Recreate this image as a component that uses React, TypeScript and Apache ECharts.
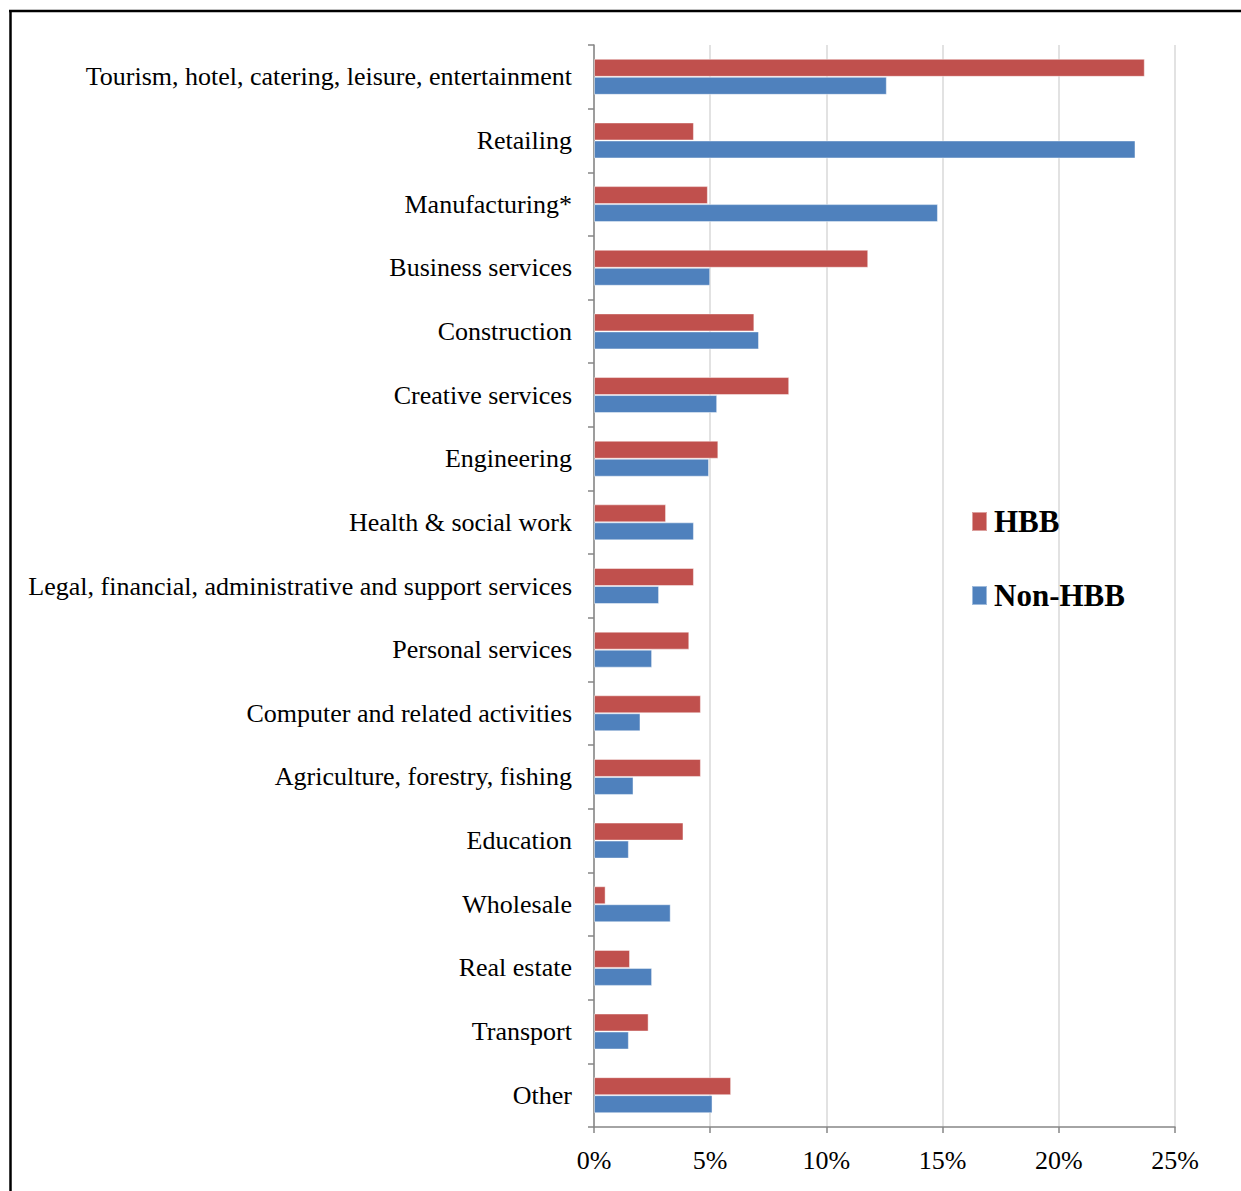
import React, { useEffect, useRef } from "react";
import * as echarts from "echarts";

const categories = [
  "Tourism, hotel, catering, leisure, entertainment",
  "Retailing",
  "Manufacturing*",
  "Business services",
  "Construction",
  "Creative services",
  "Engineering",
  "Health & social work",
  "Legal, financial, administrative and support services",
  "Personal services",
  "Computer and related activities",
  "Agriculture, forestry, fishing",
  "Education",
  "Wholesale",
  "Real estate",
  "Transport",
  "Other",
];

const hbbValues = [23.7, 4.3, 4.9, 11.8, 6.9, 8.4, 5.35, 3.1, 4.3, 4.1, 4.6, 4.6, 3.85, 0.5, 1.55, 2.35, 5.9];
const nonHbbValues = [12.6, 23.3, 14.8, 5.0, 7.1, 5.3, 4.95, 4.3, 2.8, 2.5, 2.0, 1.7, 1.5, 3.3, 2.5, 1.5, 5.1];

const xTickLabels = ["0%", "5%", "10%", "15%", "20%", "25%"];

const seriesNames = ["HBB", "Non-HBB"];
const colors = ["#C0504D", "#4F81BD"];

export default function App() {
  const ref = useRef<HTMLDivElement>(null);

  useEffect(() => {
    if (!ref.current) return;
    const chart = echarts.init(ref.current, undefined, { renderer: "svg" });
    const font = "'Liberation Serif', 'Times New Roman', serif";
    chart.setOption({
      animation: false,
      backgroundColor: "#ffffff",
      graphic: [
        {
          type: "line",
          shape: { x1: 9, y1: 11, x2: 1241, y2: 11 },
          style: { stroke: "#000", lineWidth: 2.5 },
          silent: true,
        },
        {
          type: "line",
          shape: { x1: 10.5, y1: 10, x2: 10.5, y2: 1191 },
          style: { stroke: "#000", lineWidth: 2.5 },
          silent: true,
        },
      ],
      legend: {
        orient: "vertical",
        left: 966,
        top: 501,
        itemWidth: 15,
        itemHeight: 19,
        itemGap: 43,
        icon: "rect",
        data: seriesNames,
        textStyle: {
          fontFamily: font,
          fontSize: 31,
          fontWeight: "bold",
          color: "#000",
          lineHeight: 30,
          padding: [0, 0, 0, 2],
        },
      },
      grid: {
        left: 594,
        right: 66,
        top: 45,
        bottom: 64,
        containLabel: false,
      },
      xAxis: {
        type: "value",
        min: 0,
        max: 25,
        interval: 5,
        axisLine: { show: true, lineStyle: { color: "#868686", width: 1.5 } },
        axisTick: { show: true, length: 6, lineStyle: { color: "#868686", width: 1.5 } },
        splitLine: { show: true, lineStyle: { color: "#d9d9d9", width: 1.5 } },
        axisLabel: {
          fontFamily: font,
          fontSize: 26,
          color: "#000",
          margin: 20,
          formatter: (v: number) => xTickLabels[Math.round(v / 5)] ?? "",
        },
      },
      yAxis: {
        type: "category",
        inverse: true,
        data: categories,
        axisLine: { show: true, lineStyle: { color: "#868686", width: 1.5 } },
        axisTick: { show: true, length: 6, lineStyle: { color: "#868686", width: 1.5 } },
        splitLine: { show: false },
        axisLabel: {
          fontFamily: font,
          fontSize: 26,
          color: "#000",
          margin: 22,
          interval: 0,
        },
      },
      series: [
        {
          name: seriesNames[0],
          type: "bar",
          data: hbbValues,
          barWidth: 18,
          barGap: "0%",
          itemStyle: { color: colors[0], borderColor: "rgba(255,255,255,0.45)", borderWidth: 1 },
        },
        {
          name: seriesNames[1],
          type: "bar",
          data: nonHbbValues,
          barWidth: 18,
          barGap: "0%",
          itemStyle: { color: colors[1], borderColor: "rgba(255,255,255,0.45)", borderWidth: 1 },
        },
      ],
    });
    return () => chart.dispose();
  }, []);

  return (
    <div
      ref={ref}
      style={{ position: "absolute", left: 0, top: 0, width: 1241, height: 1191 }}
    />
  );
}
